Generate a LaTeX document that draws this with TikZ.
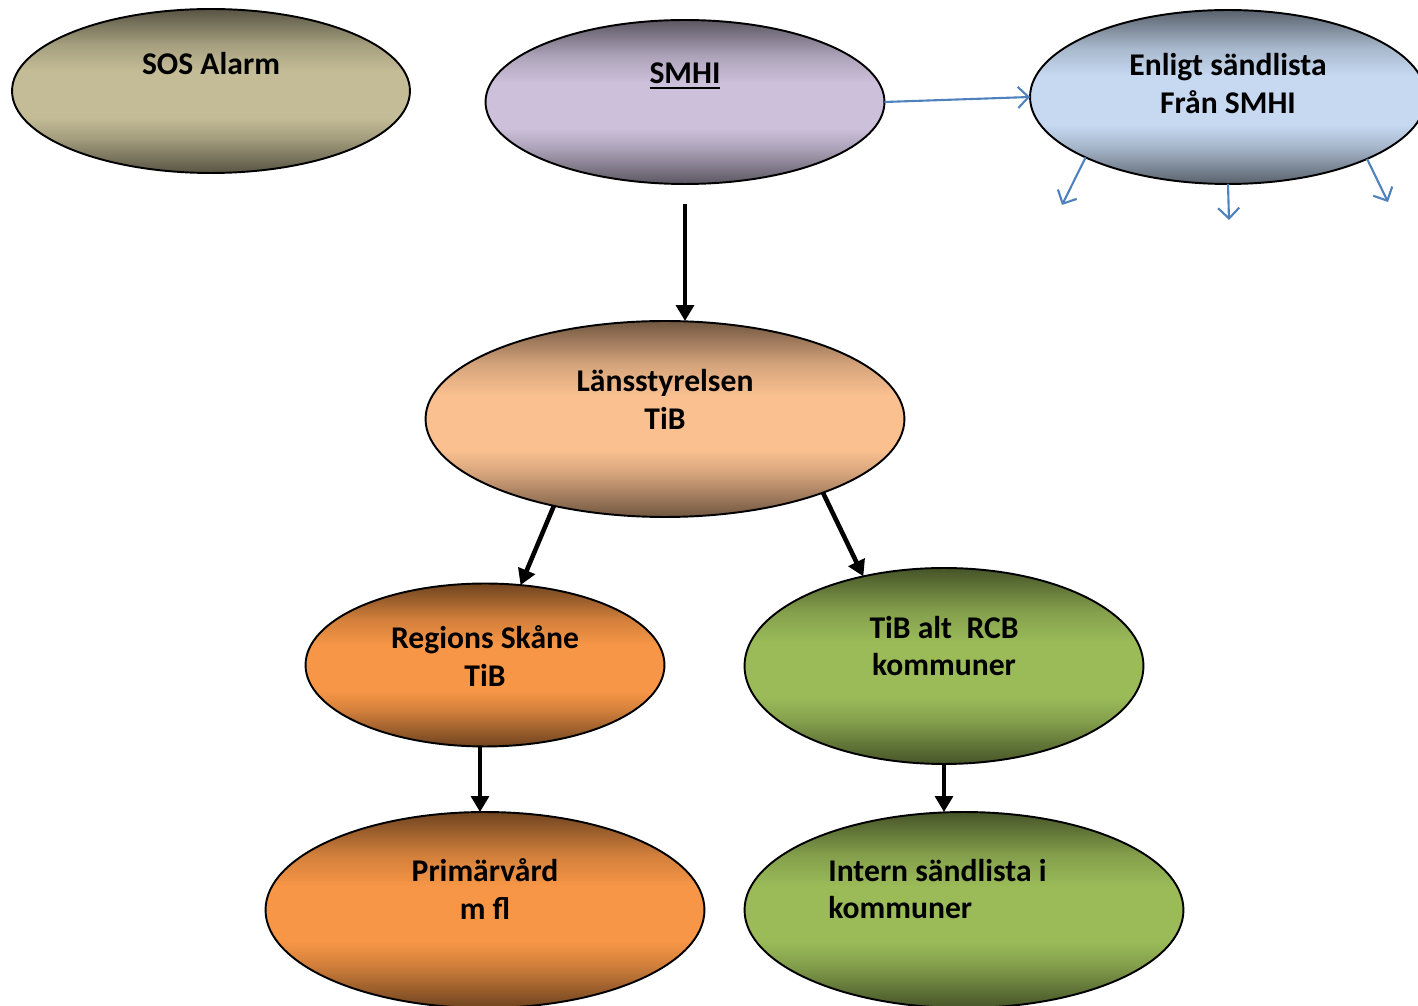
\documentclass[tikz,border=0pt]{standalone}
\usepackage{fontspec}
\setmainfont{Carlito}
\usetikzlibrary{shapes.geometric,arrows.meta}
\definecolor{sosL}{HTML}{C4BC96}
\definecolor{smhiL}{HTML}{CCC0DA}
\definecolor{enlL}{HTML}{C6D9F1}
\definecolor{lanL}{HTML}{FAC090}
\definecolor{regL}{HTML}{F79646}
\definecolor{tibL}{HTML}{9BBB59}
\definecolor{blueArr}{HTML}{4F81BD}
\newcommand\mkshade[2]{%
  \colorlet{#1D}{#2!45!black}%
  \colorlet{#1M}{#2!85!black}%
  \pgfdeclareverticalshading{#1}{100bp}{color(0bp)=(#1D); color(25bp)=(#1D); color(36bp)=(#1M); color(42bp)=(#2); color(56bp)=(#2); color(64bp)=(#1M); color(75bp)=(#1D); color(100bp)=(#1D)}}
\mkshade{sosS}{sosL}
\mkshade{smhiS}{smhiL}
\mkshade{enlS}{enlL}
\mkshade{lanS}{lanL}
\mkshade{regS}{regL}
\mkshade{tibS}{tibL}
\newcommand\thickul[1]{\setbox0\hbox{#1}\leavevmode\vtop{\copy0\kern1.6pt\hrule height 1.1pt width \wd0}}
\begin{document}
\begin{tikzpicture}[x=0.02cm,y=-0.02cm,
  oval/.style={ellipse, draw=black, line width=1.1pt, inner sep=0pt, outer sep=0pt},
  lbl/.style={font=\bfseries\fontsize{18}{21.6}\selectfont, align=center, inner sep=0pt},
  blk/.style={line width=2.6pt, -{Triangle[length=9pt,width=10pt]}},
  blu/.style={draw=blueArr, line width=1.2pt, -{Straight Barb[length=6pt,width=12pt,line width=1.2pt]}}]
\useasboundingbox (0,0) rectangle (1418,1006);
\node[oval, shading=sosS, minimum width=7.96cm, minimum height=3.28cm] (sos) at (211,91) {};
\node[oval, shading=smhiS, minimum width=7.98cm, minimum height=3.28cm] (smhi) at (685,102) {};
\node[oval, shading=enlS, minimum width=7.92cm, minimum height=3.48cm] (enl) at (1228,97) {};
\node[oval, shading=lanS, minimum width=9.58cm, minimum height=3.92cm] (lan) at (665,419) {};
\node[oval, shading=regS, minimum width=7.18cm, minimum height=3.26cm] (reg) at (485,665) {};
\node[oval, shading=tibS, minimum width=7.98cm, minimum height=3.92cm] (tib) at (944,666) {};
\node[oval, shading=regS, minimum width=8.78cm, minimum height=3.92cm] (prim) at (485,910) {};
\node[oval, shading=tibS, minimum width=8.78cm, minimum height=3.92cm] (intern) at (964,910) {};
% texts
\node[lbl] (tsos) at (211,64) {SOS Alarm};
\node[lbl] (tsmhi) at (685,76) {\thickul{SMHI}};
\node[lbl] (tenl) at (1228,84) {Enligt sändlista\\Från SMHI};
\node[lbl] (tlan) at (665,399) {Länsstyrelsen\\TiB};
\node[lbl] (treg) at (485,656) {Regions Skåne\\TiB};
\node[lbl] (ttib) at (944,646) {TiB alt\ \ RCB\\kommuner};
\node[lbl] (tprim) at (485,889) {Primärvård\\m fl};
\node[lbl, align=left, anchor=west] (tint) at (828,889) {Intern sändlista i\\kommuner};
% black arrows
\draw[blk, shorten <=0.4cm] (smhi.south) -- (smhi.south |- lan.north);
\draw[blk] (lan.218) -- (reg.66);
\draw[blk] (lan.335.5) -- (tib.132);
\draw[blk] ([xshift=-0.1cm]reg.south) -- ([xshift=-0.1cm]reg.south |- prim.north);
\draw[blk] (tib.south) -- (tib.south |- intern.north);
% blue arrows
\draw[blu] (smhi.east) -- (enl.west);
\coordinate (e1) at (1062,205);
\coordinate (e2) at (1229,220);
\coordinate (e3) at (1388,202);
\draw[blu] (enl.203.4) -- (e1);
\draw[blu] (enl.south) -- (e2);
\draw[blu] (enl.336.4) -- (e3);
\end{tikzpicture}
\end{document}
